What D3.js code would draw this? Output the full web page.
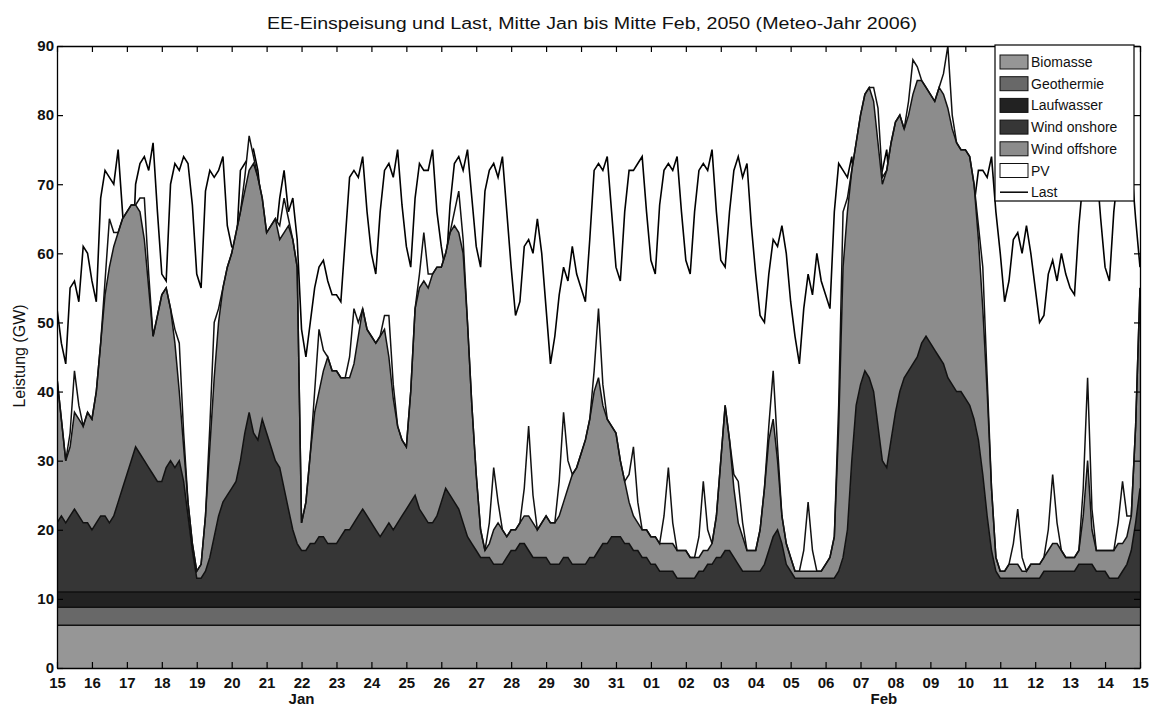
<!DOCTYPE html>
<html>
<head>
<meta charset="utf-8">
<script src="https://cdn.jsdelivr.net/npm/d3@7"></script>
<style>
  body { margin: 0; background: #fff; }
  svg text { font-family: "Liberation Sans", Arial, sans-serif; fill: #111; }
</style>
</head>
<body>
<svg id="chart" width="1153" height="709"></svg>
<script>
// values every 3 hours, 15 Jan 00:00 .. 15 Feb 00:00 (one row per day)
const startTime = Date.UTC(2050, 0, 15);
const stepHours = 3;

// flat bands (GW)
const biomasse = 6.2;
const geothermie = 2.6;
const laufwasser = 2.2;

const windOnshore = [
  10, 11, 10, 11, 12, 11, 10, 10,
  9, 10, 11, 11, 10, 11, 13, 15,
  17, 19, 21, 20, 19, 18, 17, 16,
  16, 18, 19, 18, 19, 16, 11, 6,
  2, 2, 3, 5, 8, 11, 13, 14,
  15, 16, 19, 23, 26, 23, 22, 25,
  23, 21, 19, 18, 15, 12, 9, 7,
  6, 6, 7, 7, 8, 8, 7, 7,
  7, 8, 9, 9, 10, 11, 12, 11,
  10, 9, 8, 9, 10, 9, 10, 11,
  12, 13, 14, 12, 11, 10, 10, 11,
  13, 15, 14, 13, 12, 10, 8, 7,
  6, 5, 5, 5, 4, 4, 4, 5,
  6, 6, 7, 7, 6, 5, 5, 5,
  5, 4, 4, 4, 5, 5, 4, 4,
  4, 4, 5, 5, 6, 7, 7, 8,
  8, 8, 7, 7, 6, 6, 5, 5,
  4, 4, 3, 3, 3, 3, 2, 2,
  2, 2, 2, 3, 3, 4, 4, 5,
  5, 6, 6, 5, 4, 3, 3, 3,
  3, 3, 4, 6, 8, 9, 7, 4,
  3, 2, 2, 2, 2, 2, 2, 2,
  2, 2, 2, 3, 5, 9, 19, 27,
  30, 32, 31, 29, 24, 19, 18, 22,
  26, 29, 31, 32, 33, 34, 36, 37,
  36, 35, 34, 33, 31, 30, 29, 29,
  28, 27, 25, 22, 17, 11, 6, 3,
  2, 2, 2, 2, 2, 2, 2, 2,
  2, 2, 3, 3, 3, 3, 3, 3,
  3, 3, 4, 4, 4, 4, 3, 3,
  3, 2, 2, 2, 3, 4, 6, 10,
  15
];

const windOffshore = [
  21, 14, 9, 10, 14, 14, 14, 16,
  16, 19, 25, 32, 37, 39, 39, 39,
  38, 37, 35, 35, 32, 26, 20, 24,
  27, 26, 22, 18, 10, 5, 2, 1,
  1, 2, 8, 16, 23, 28, 31, 33,
  34, 36, 36, 35, 35, 39, 38, 32,
  29, 32, 35, 33, 37, 41, 42, 40,
  4, 7, 13, 19, 21, 24, 27, 25,
  25, 23, 22, 22, 23, 26, 29, 27,
  27, 27, 29, 29, 24, 19, 14, 11,
  9, 16, 27, 32, 34, 34, 36, 36,
  34, 34, 38, 40, 40, 39, 31, 20,
  11, 4, 1, 2, 5, 6, 5, 3,
  3, 3, 3, 4, 5, 5, 4, 5,
  6, 6, 6, 7, 8, 10, 13, 14,
  16, 18, 20, 24, 25, 20, 18, 16,
  15, 11, 9, 6, 5, 4, 4, 4,
  4, 4, 4, 4, 4, 4, 4, 4,
  4, 3, 3, 2, 3, 2, 3, 6,
  14, 21, 16, 10, 6, 5, 3, 3,
  3, 6, 11, 16, 17, 10, 4, 3,
  2, 1, 1, 1, 1, 1, 1, 1,
  2, 3, 6, 21, 42, 46, 42, 38,
  39, 40, 42, 42, 41, 40, 43, 43,
  42, 40, 36, 37, 39, 40, 38, 36,
  36, 36, 39, 39, 39, 37, 36, 35,
  36, 36, 34, 29, 24, 18, 9, 2,
  1, 1, 2, 2, 2, 1, 1, 2,
  2, 2, 2, 3, 4, 4, 3, 2,
  2, 2, 2, 7, 15, 5, 3, 3,
  3, 4, 4, 5, 4, 4, 5, 14,
  29
];

const pv = [
  0, 0, 0, 2, 6, 2, 0, 0,
  0, 0, 0, 2, 7, 2, 0, 0,
  0, 0, 0, 2, 6, 2, 0, 0,
  0, 0, 0, 2, 7, 2, 0, 0,
  0, 0, 0, 3, 8, 2, 0, 0,
  0, 0, 0, 2, 5, 1, 0, 0,
  0, 0, 0, 2, 5, 1, 0, 0,
  0, 0, 0, 3, 9, 3, 0, 0,
  0, 0, 0, 3, 8, 2, 0, 0,
  0, 0, 0, 2, 6, 2, 0, 0,
  0, 0, 0, 2, 7, 2, 0, 0,
  0, 0, 0, 2, 6, 2, 0, 0,
  0, 0, 0, 3, 9, 3, 0, 0,
  0, 0, 0, 4, 13, 4, 0, 0,
  0, 0, 0, 5, 13, 4, 0, 0,
  0, 0, 0, 3, 10, 3, 0, 0,
  0, 0, 0, 4, 10, 3, 0, 0,
  0, 0, 0, 4, 11, 3, 0, 0,
  0, 0, 0, 3, 10, 3, 0, 0,
  0, 0, 0, 2, 6, 2, 0, 0,
  0, 0, 0, 2, 7, 2, 0, 0,
  0, 0, 0, 3, 10, 3, 0, 0,
  0, 0, 0, 3, 8, 2, 0, 0,
  0, 0, 0, 2, 5, 1, 0, 0,
  0, 0, 0, 2, 5, 2, 0, 0,
  0, 0, 0, 3, 9, 2, 0, 0,
  0, 0, 0, 2, 6, 2, 0, 0,
  0, 0, 0, 3, 8, 2, 0, 0,
  0, 0, 0, 3, 10, 3, 0, 0,
  0, 0, 0, 4, 12, 3, 0, 0,
  0, 0, 0, 3, 9, 3, 0, 0,
  0
];

const last = [
  52, 47, 44, 55, 56, 53, 61, 60,
  56, 53, 68, 72, 71, 70, 75, 66,
  57, 55, 70, 73, 74, 72, 76, 66,
  57, 56, 70, 73, 72, 74, 73, 67,
  57, 55, 69, 72, 71, 72, 74, 64,
  61, 60, 72, 73, 74, 75, 72, 66,
  61, 58, 62, 68, 72, 66, 68, 62,
  49, 45, 50, 55, 58, 59, 56, 54,
  54, 53, 62, 71, 72, 71, 74, 66,
  60, 57, 66, 72, 73, 71, 75, 67,
  61, 58, 68, 73, 72, 72, 75, 66,
  61, 57, 67, 73, 74, 72, 75, 68,
  61, 58, 69, 72, 73, 71, 74, 66,
  58, 51, 53, 61, 62, 60, 65, 60,
  52, 44, 48, 54, 58, 56, 61, 57,
  55, 53, 62, 72, 73, 72, 74, 66,
  58, 56, 66, 72, 72, 73, 74, 66,
  59, 57, 67, 72, 73, 72, 74, 66,
  59, 57, 66, 72, 73, 72, 75, 66,
  59, 58, 66, 72, 74, 71, 73, 64,
  57, 51, 50, 57, 62, 61, 64, 60,
  53, 48, 44, 52, 57, 54, 60, 56,
  54, 52, 66, 73, 72, 71, 74, 67,
  60, 57, 68, 73, 73, 72, 75, 67,
  60, 57, 68, 73, 72, 72, 75, 67,
  60, 57, 68, 73, 73, 72, 75, 67,
  60, 57, 67, 72, 72, 71, 74, 66,
  60, 53, 56, 62, 63, 60, 64, 60,
  55, 50, 51, 57, 59, 56, 60, 57,
  55, 54, 64, 71, 71, 70, 73, 65,
  58, 56, 66, 72, 72, 71, 73, 65,
  58
];

const yTicks = [0, 10, 20, 30, 40, 50, 60, 70, 80, 90];
const monthLabels = [
  { text: 'Jan', at: Date.UTC(2050, 0, 22) },
  { text: 'Feb', at: Date.UTC(2050, 1, 7, 16) }
];

const layers = [
  { key: 'biomasse', label: 'Biomasse', color: '#969696' },
  { key: 'geothermie', label: 'Geothermie', color: '#686868' },
  { key: 'laufwasser', label: 'Laufwasser', color: '#222222' },
  { key: 'windOnshore', label: 'Wind onshore', color: '#363636' },
  { key: 'windOffshore', label: 'Wind offshore', color: '#8c8c8c' },
  { key: 'pv', label: 'PV', color: '#ffffff' }
];

const plotLeft = 57, plotRight = 1140, plotTop = 46, plotBottom = 668;

const table = last.map((v, i) => ({
  time: new Date(startTime + i * stepHours * 3600 * 1000),
  biomasse: biomasse,
  geothermie: geothermie,
  laufwasser: laufwasser,
  windOnshore: windOnshore[i],
  windOffshore: windOffshore[i],
  pv: pv[i],
  last: v
}));

const svg = d3.select('#chart');

const x = d3.scaleUtc()
  .domain([table[0].time, table[table.length - 1].time])
  .range([plotLeft, plotRight]);
const y = d3.scaleLinear().domain([0, 90]).range([plotBottom, plotTop]);

const stacked = d3.stack().keys(layers.map(l => l.key))(table);

svg.append('defs').append('clipPath').attr('id', 'plot')
  .append('rect')
  .attr('x', plotLeft).attr('y', plotTop)
  .attr('width', plotRight - plotLeft).attr('height', plotBottom - plotTop);

const plot = svg.append('g').attr('clip-path', 'url(#plot)');

// Last goes underneath, the areas cover it where the feed-in is higher
plot.append('path')
  .datum(table)
  .attr('d', d3.line().x(d => x(d.time)).y(d => y(d.last)))
  .attr('fill', 'none')
  .attr('stroke', '#000')
  .attr('stroke-width', 1.6);

const area = d3.area()
  .x(d => x(d.data.time))
  .y0(d => y(d[0]))
  .y1(d => y(d[1]));

const edge = d3.line()
  .x(d => x(d.data.time))
  .y(d => y(d[1]));

plot.selectAll('path.layer')
  .data(stacked)
  .enter()
  .append('path')
  .attr('class', 'layer')
  .attr('d', area)
  .attr('fill', (d, i) => layers[i].color);

plot.selectAll('path.edge')
  .data(stacked)
  .enter()
  .append('path')
  .attr('class', 'edge')
  .attr('d', edge)
  .attr('fill', 'none')
  .attr('stroke', '#111')
  .attr('stroke-width', 1.5);

// axes, ticks pointing inward like matlab
const dayTicks = d3.utcDay.every(1);

const xBottom = svg.append('g')
  .attr('transform', `translate(0,${plotBottom})`)
  .call(d3.axisBottom(x).ticks(dayTicks).tickFormat(d3.utcFormat('%d'))
    .tickSize(-6).tickSizeOuter(0).tickPadding(9));

svg.append('g')
  .attr('transform', `translate(0,${plotTop})`)
  .call(d3.axisTop(x).ticks(dayTicks).tickFormat('')
    .tickSize(-6).tickSizeOuter(0));

const yLeft = svg.append('g')
  .attr('transform', `translate(${plotLeft},0)`)
  .call(d3.axisLeft(y).tickValues(yTicks).tickSize(-6).tickSizeOuter(0).tickPadding(3));

svg.append('g')
  .attr('transform', `translate(${plotRight},0)`)
  .call(d3.axisRight(y).tickValues(yTicks).tickFormat('').tickSize(-6).tickSizeOuter(0));

svg.selectAll('.domain').attr('stroke', '#000').attr('stroke-width', 1.3);
svg.selectAll('.tick line').attr('stroke', '#000').attr('stroke-width', 1.2);
xBottom.selectAll('text').style('font-size', '15px').style('font-weight', 'bold');
yLeft.selectAll('text').style('font-size', '15px').style('font-weight', 'bold');

svg.selectAll('text.month')
  .data(monthLabels)
  .enter()
  .append('text')
  .attr('class', 'month')
  .attr('x', d => x(new Date(d.at)))
  .attr('y', 704)
  .attr('text-anchor', 'middle')
  .style('font-size', '15px')
  .style('font-weight', 'bold')
  .text(d => d.text);

// title and y label
svg.append('text')
  .attr('x', 592).attr('y', 29)
  .attr('text-anchor', 'middle')
  .attr('textLength', 650)
  .attr('lengthAdjust', 'spacingAndGlyphs')
  .style('font-size', '16px')
  .text('EE-Einspeisung und Last, Mitte Jan bis Mitte Feb, 2050 (Meteo-Jahr 2006)');

svg.append('text')
  .attr('transform', 'translate(25,356) rotate(-90)')
  .attr('text-anchor', 'middle')
  .style('font-size', '16px')
  .text('Leistung (GW)');

// legend
const legend = svg.append('g').attr('transform', 'translate(995,45)');
legend.append('rect')
  .attr('width', 139).attr('height', 156)
  .attr('fill', '#fff').attr('stroke', '#000').attr('stroke-width', 1.2);

const rowY = i => 17 + i * 21.7;

legend.selectAll('rect.swatch')
  .data(layers)
  .enter()
  .append('rect')
  .attr('class', 'swatch')
  .attr('x', 5).attr('y', (d, i) => rowY(i) - 7)
  .attr('width', 28).attr('height', 14)
  .attr('fill', d => d.color)
  .attr('stroke', '#111').attr('stroke-width', 1);

legend.append('line')
  .attr('x1', 5).attr('x2', 33)
  .attr('y1', rowY(6)).attr('y2', rowY(6))
  .attr('stroke', '#000').attr('stroke-width', 1.5);

legend.selectAll('text.entry')
  .data(layers.map(l => l.label).concat(['Last']))
  .enter()
  .append('text')
  .attr('class', 'entry')
  .attr('x', 36)
  .attr('y', (d, i) => rowY(i) + 5)
  .style('font-size', '14px')
  .text(d => d);
</script>
</body>
</html>
